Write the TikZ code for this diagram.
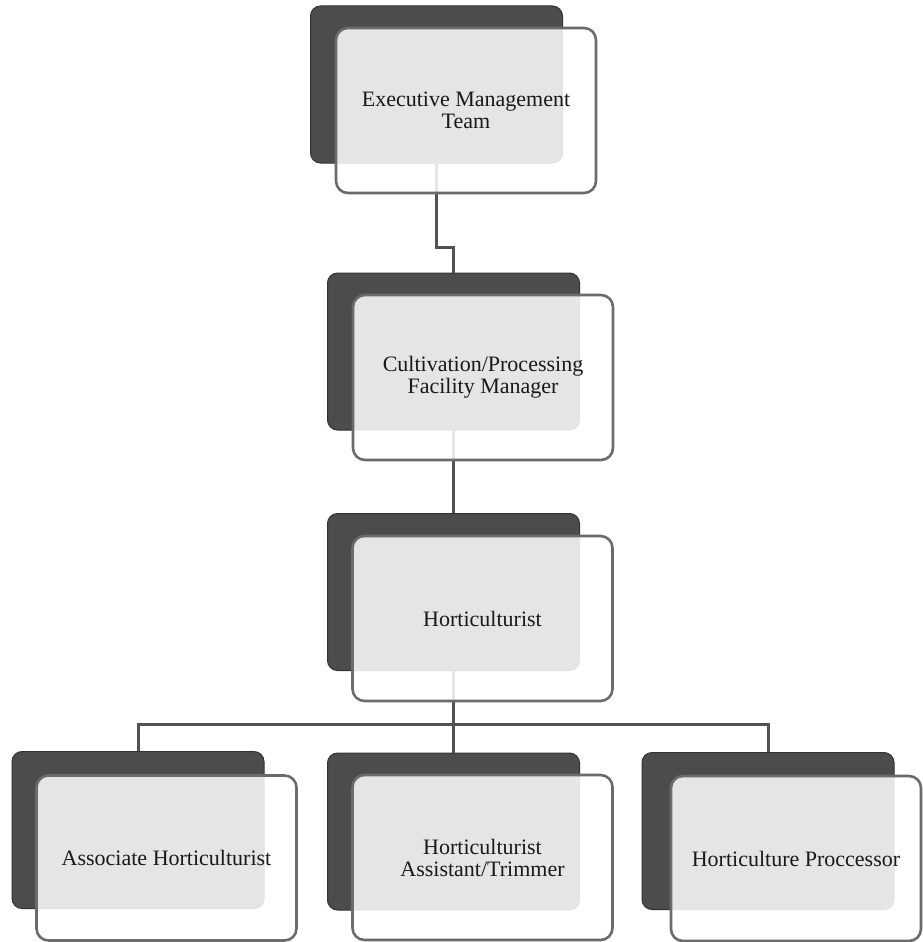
\documentclass[tikz,border=0pt]{standalone}
\usepackage{fontspec}
\setmainfont{Liberation Serif}
\begin{document}
\begin{tikzpicture}[x=1pt,y=-1pt,
  backbox/.style={rectangle, rounded corners=10pt, fill=black!70, draw=black!80, line width=1pt, minimum width=252pt, minimum height=157pt, inner sep=0pt},
  frontbox/.style={rectangle, rounded corners=12pt, draw=black!58, line width=2.6pt, fill=white, fill opacity=0.86, text opacity=1, minimum width=260pt, minimum height=165pt, align=center, font=\fontsize{22}{22}\selectfont, text=black!90, inner sep=0pt},
  link/.style={draw=black!68, line width=3pt}
]
\useasboundingbox (0,0) rectangle (922,942);
% back boxes
\node[backbox] (execB) at (436.5,84.5) {};
\node[backbox] (mgrB) at (453.5,351.5) {};
\node[backbox] (hortB) at (453.5,592) {};
\node[backbox] (assocB) at (138,830) {};
\node[backbox] (asstB) at (453.5,831.5) {};
\node[backbox] (procB) at (768,831) {};
% connectors
\draw[link] (execB.south) -- ++(0,84) -| (mgrB.north);
\draw[link] (mgrB.south) -- (hortB.north);
\draw[link] (hortB.south) -- ++(0,53.5) coordinate (bus);
\draw[link] (assocB.north) |- (bus) -| (procB.north);
\draw[link] (bus) -- (asstB.north);
% front boxes
\node[frontbox] (exec) at (466,110.5) {Executive Management\\Team};
\node[frontbox] (mgr) at (483,377.5) {Cultivation/Processing\\Facility Manager};
\node[frontbox] (hort) at (482.5,618.5) {Horticulturist};
\node[frontbox] (assoc) at (166.5,858) {Associate Horticulturist};
\node[frontbox] (asst) at (482.5,857.5) {Horticulturist\\Assistant/Trimmer};
\node[frontbox, minimum width=250pt] (proc) at (796,858.5) {Horticulture Proccessor};
\end{tikzpicture}
\end{document}
